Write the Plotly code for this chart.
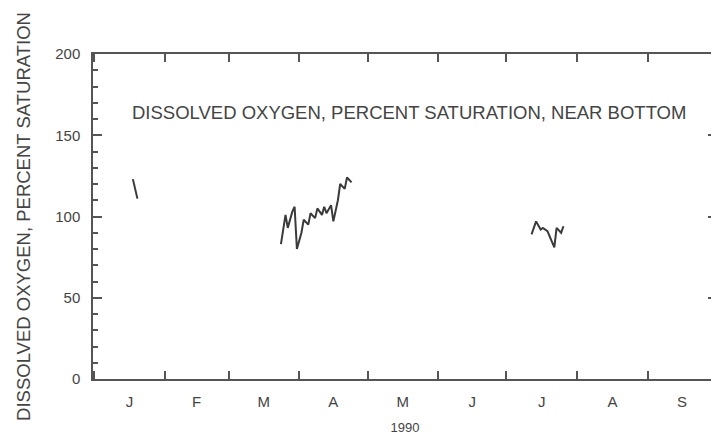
import plotly.graph_objects as go

# dissolved oxygen, percent saturation, near bottom - 1990
jan_dates = ['1990-01-18', '1990-01-19', '1990-01-20']
jan_do = [123, 117, 111]

spring_dates = ['1990-03-24', '1990-03-26', '1990-03-27', '1990-03-29', '1990-03-30',
                '1990-03-31', '1990-04-02', '1990-04-03', '1990-04-05', '1990-04-06',
                '1990-04-08', '1990-04-09', '1990-04-11', '1990-04-12', '1990-04-13',
                '1990-04-15', '1990-04-16', '1990-04-18', '1990-04-19', '1990-04-21',
                '1990-04-22', '1990-04-24']
spring_do = [83, 101, 93, 103, 106, 80, 90, 98, 95, 102, 99, 105, 101, 106, 102,
             107, 97, 110, 120, 117, 124, 121]

july_dates = ['1990-07-12', '1990-07-14', '1990-07-16', '1990-07-17', '1990-07-19',
              '1990-07-20', '1990-07-21', '1990-07-22', '1990-07-23', '1990-07-25',
              '1990-07-26']
july_do = [89, 97, 92, 93, 91, 88, 84, 81, 93, 90, 94]

month_alias = {'Jan': 'J', 'Feb': 'F', 'Mar': 'M', 'Apr': 'A', 'May': 'M',
               'Jun': 'J', 'Jul': 'J', 'Aug': 'A', 'Sep': 'S'}

ink = '#3a3a3a'
font = 'Liberation Sans, Arial, sans-serif'

fig = go.Figure()
for xs, ys in [(jan_dates, jan_do), (spring_dates, spring_do), (july_dates, july_do)]:
    fig.add_trace(go.Scatter(x=xs, y=ys, mode='lines',
                             line=dict(color=ink, width=2), showlegend=False))

fig.add_annotation(text='DISSOLVED OXYGEN, PERCENT SATURATION, NEAR BOTTOM',
                   xref='paper', yref='y', x=0.506, y=164, showarrow=False,
                   font=dict(size=18.5, color='#444', family=font))

fig.update_xaxes(range=['1989-12-31 12:00', '1990-10-01 10:00'], dtick='M1',
                 tick0='1990-01-01', tickformat='%b', ticklabelmode='period',
                 labelalias=month_alias,
                 ticks='inside', ticklen=8, tickwidth=1.5, tickcolor='#555',
                 showline=True, linecolor='#555', linewidth=1.5, mirror='ticks',
                 showgrid=False, zeroline=False, ticklabelstandoff=8,
                 tickfont=dict(size=15, color='#444', family=font),
                 title=dict(text='1990', standoff=16,
                            font=dict(size=13, color='#444', family=font)))

fig.update_yaxes(range=[0, 200], dtick=50, ticks='inside', ticklen=9, tickwidth=1.5,
                 tickcolor='#555', showline=True, linecolor='#555', linewidth=1.5,
                 mirror='ticks', showgrid=False, zeroline=False, ticklabelstandoff=8,
                 minor=dict(dtick=10, ticks='inside', ticklen=5, tickcolor='#555'),
                 tickfont=dict(size=15, color='#444', family=font),
                 title=dict(text='DISSOLVED OXYGEN, PERCENT SATURATION', standoff=20,
                            font=dict(size=18.5, color='#444', family=font)))

# page body has an 8px margin, so the figure is sized to fit inside the window
fig.update_layout(width=711, height=427, margin=dict(l=85, r=0, t=46, b=55),
                  paper_bgcolor='white', plot_bgcolor='white')

fig.write_html('out.html')
